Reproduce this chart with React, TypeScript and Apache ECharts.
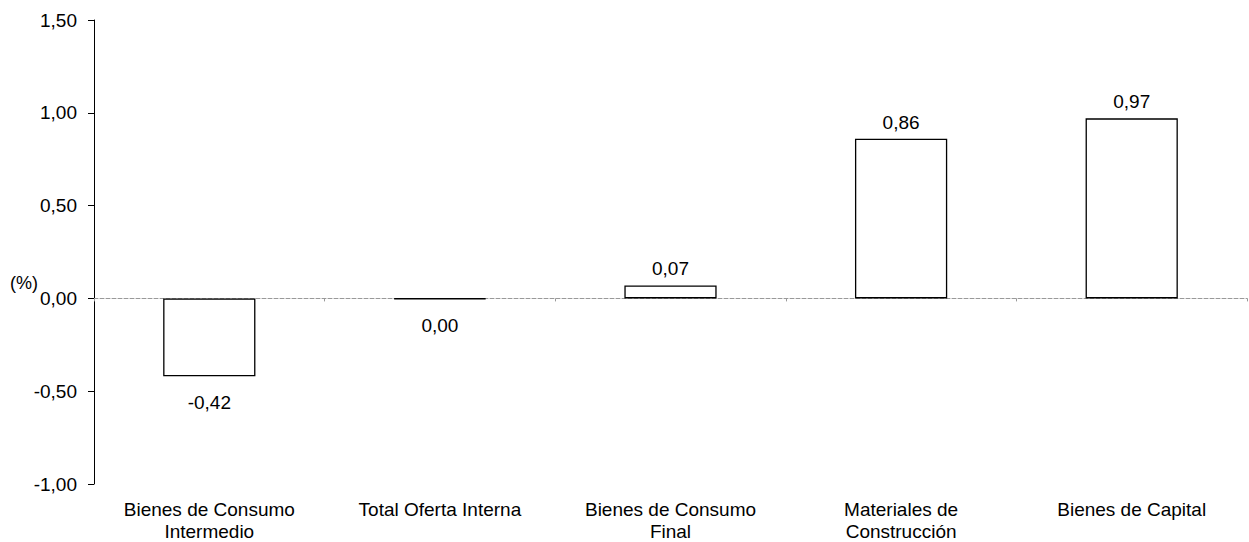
import React, { useEffect, useRef } from "react";
import * as echarts from "echarts";

const categories = [
  "Bienes de Consumo\nIntermedio",
  "Total Oferta Interna",
  "Bienes de Consumo\nFinal",
  "Materiales de\nConstrucción",
  "Bienes de Capital",
];
const values = [-0.42, -0.004, 0.07, 0.86, 0.97];
const yMin = -1;
const yMax = 1.5;
const yInterval = 0.5;
const unitLabel = "(%)";

const fmt = (v: number) => (Math.round(v * 100) / 100).toFixed(2).replace(".", ",");

export default function App() {
  const ref = useRef<HTMLDivElement>(null);
  useEffect(() => {
    if (!ref.current) return;
    const chart = echarts.init(ref.current, undefined, { renderer: "svg" });
    const font = "'Liberation Sans', Arial, sans-serif";
    chart.setOption({
      animation: false,
      backgroundColor: "#fff",
      textStyle: { fontFamily: font },
      grid: { left: 94, right: 2, top: 20, bottom: 57, containLabel: false },
      graphic: [
        {
          type: "text",
          left: 10,
          top: 274,
          style: { text: unitLabel, fontSize: 18, fill: "#000", fontFamily: font },
        },
      ],
      xAxis: [
        {
          type: "category",
          data: categories,
          position: "bottom",
          axisLine: { onZero: true, lineStyle: { color: "#999", type: "dashed", width: 1 } },
          axisTick: { show: true, length: 3, lineStyle: { color: "#999" } },
          axisLabel: { show: false },
          splitLine: { show: false },
        },
        {
          type: "category",
          data: categories,
          position: "bottom",
          axisLine: { show: false, onZero: false },
          axisTick: { show: false },
          axisLabel: {
            show: true,
            interval: 0,
            margin: 14,
            fontSize: 19,
            lineHeight: 22,
            color: "#000",
            fontFamily: font,
          },
          splitLine: { show: false },
        },
      ],
      yAxis: {
        type: "value",
        min: yMin,
        max: yMax,
        interval: yInterval,
        axisLine: { show: true, lineStyle: { color: "#000", width: 1 } },
        axisTick: { show: true, inside: false, length: 6, lineStyle: { color: "#000" } },
        axisLabel: {
          formatter: (v: number) => fmt(v),
          fontSize: 19,
          color: "#000",
          margin: 17,
          fontFamily: font,
        },
        splitLine: { show: false },
      },
      series: [
        {
          type: "bar",
          xAxisIndex: 0,
          barWidth: "40%",
          data: values.map((v) => ({
            value: v,
            label: {
              show: true,
              position: v >= 0 ? "top" : "bottom",
              distance: v >= 0 ? 7 : 17,
            },
          })),
          itemStyle: { color: "#fff", borderColor: "#000", borderWidth: 1.3 },
          label: {
            show: true,
            formatter: (p: any) => fmt(p.value),
            fontSize: 19,
            color: "#000",
            fontFamily: font,
          },
        },
      ],
    });
    return () => chart.dispose();
  }, []);
  return (
    <div
      ref={ref}
      style={{ position: "fixed", left: 0, top: 0, width: 1249, height: 542, background: "#fff" }}
    />
  );
}
